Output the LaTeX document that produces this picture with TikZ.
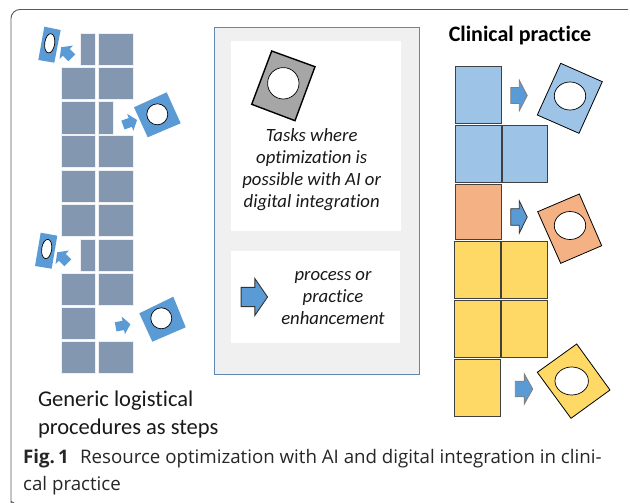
\documentclass[tikz,border=0pt]{standalone}
\usepackage{fontspec}
\setmainfont{Carlito}[Ligatures=NoCommon]
\newfontfamily\captionfont{Open Sans}
\definecolor{stepgrey}{HTML}{8497B0}
\definecolor{arrowblue}{HTML}{5B9BD5}
\definecolor{panelgrey}{HTML}{F0F0F0}
\definecolor{panelline}{HTML}{5F88B0}
\definecolor{clinblue}{HTML}{9DC3E6}
\definecolor{clinorange}{HTML}{F4B183}
\definecolor{clinyellow}{HTML}{FFD966}
\tikzset{
  stepbox/.style={fill=stepgrey, draw=black!6, line width=0.8pt},
  clinbox/.style={draw=black!75, line width=0.9pt},
  tagleft/.style={fill=arrowblue},
  hole/.style={fill=white, draw=black, line width=0.7pt},
  arrowflat/.style={fill=arrowblue},
  arrowdark/.style={fill=arrowblue, draw=black!80, line width=0.8pt},
  infotext/.style={font=\fontsize{18.7}{22}\selectfont\itshape, align=center, text=black!90},
  blockarrow/.pic={
    \path[pic actions] (-.5,.26) -- (.02,.26) -- (.02,.5) -- (.5,0) -- (.02,-.5) -- (.02,-.26) -- (-.5,-.26) -- cycle;
  }
}
\begin{document}
\begin{tikzpicture}[x=1pt, y=-1pt]
  \useasboundingbox (0,0) rectangle (630,503);
  % outer frame of the figure
  \draw[black!65, line width=0.9pt, rounded corners=9pt] (628,9.5) -- (11,9.5) -- (11,496) .. controls (11,500) and (12,502) .. (14,503);

  % Generic steps, left
  \draw[stepbox] (80,33) rectangle (95.5,65);
  \draw[stepbox] (98,33) rectangle (133,65);
  \draw[stepbox] (61,67) rectangle (95.5,99);
  \draw[stepbox] (98,67) rectangle (133,99);
  \draw[stepbox] (61,101) rectangle (95.5,134);
  \draw[stepbox] (98,101) rectangle (113,134);
  \draw[stepbox] (61,135.5) rectangle (95.5,167.5);
  \draw[stepbox] (98,135.5) rectangle (133,167.5);
  \draw[stepbox] (61,170) rectangle (95.5,202);
  \draw[stepbox] (98,170) rectangle (133,202);
  \draw[stepbox] (61,204) rectangle (95.5,236.5);
  \draw[stepbox] (98,204) rectangle (133,236.5);
  \draw[stepbox] (80.5,239.5) rectangle (95.5,271.5);
  \draw[stepbox] (98,239.5) rectangle (133,271.5);
  \draw[stepbox] (61,273.5) rectangle (95.5,305.5);
  \draw[stepbox] (98,273.5) rectangle (133,305.5);
  \draw[stepbox] (61,307.5) rectangle (95.5,339);
  \draw[stepbox] (61,341.5) rectangle (95.5,373);
  \draw[stepbox] (98,341.5) rectangle (133,373);

  % punched tags, left
  \fill[tagleft] (44.3,26.7) -- (60.7,30) -- (54.3,62.7) -- (38.3,60) -- cycle;
  \draw[hole, rotate around={-8:(49.7,43.3)}] (49.7,43.3) ellipse (5 and 9.7);
  \fill[tagleft] (134,107.3) -- (166.7,92.3) -- (180.7,123.3) -- (147.7,137.3) -- cycle;
  \draw[hole] (157.3,114.3) circle (10.5);
  \fill[tagleft] (40.7,232.7) -- (57.3,235.7) -- (51.7,268.7) -- (35,266) -- cycle;
  \draw[hole, rotate around={-8:(46.7,249)}] (46.7,249) ellipse (5 and 9.7);
  \fill[tagleft] (139.3,313.3) -- (173.3,296.7) -- (185.7,327.3) -- (152.3,341.7) -- cycle;
  \draw[hole] (161.3,318.3) circle (10.5);
  \pic[arrowflat, rotate=135, xscale=15, yscale=19] at (66.5,52.5) {blockarrow};
  \pic[arrowflat, rotate=20, xscale=15, yscale=18] at (130,122.5) {blockarrow};
  \pic[arrowflat, rotate=135, xscale=15, yscale=19] at (62.5,257.5) {blockarrow};
  \pic[arrowflat, rotate=10, xscale=15, yscale=18] at (123,325.5) {blockarrow};

  \node[anchor=west, font=\fontsize{22.5}{28}\selectfont, align=left, text=black!90] (stepstext) at (34.5,414.5) {Generic logistical\\procedures as steps};

  % Legend panel, middle
  \draw[fill=panelgrey, draw=panelline, line width=0.9pt] (214,27.5) rectangle (419,374);
  \fill[white] (231,41) rectangle (401,231);
  \fill[white] (231,251) rectangle (400,342.7);
  \draw[fill=black!35, line width=1.4pt] (271.7,51) -- (315,66.7) -- (295,120.7) -- (251.7,104.3) -- cycle;
  \draw[hole] (283.3,83.3) circle (15.7);
  \node[infotext] (taskstext) at (311.7,170) {Tasks where\\optimization is\\possible with AI or\\digital integration};
  \pic[arrowdark, line width=0.9pt, xscale=26.5, yscale=37] at (254.3,297) {blockarrow};
  \node[infotext] (enhancetext) at (333,298) {process or\\practice\\enhancement};

  % Clinical steps, right
  \node[font=\fontsize{22}{24}\selectfont\bfseries] (clintitle) at (520,36) {Clinical practice};
  \draw[clinbox, fill=clinblue] (455.3,66.7) rectangle (501,123.3);
  \draw[clinbox, fill=clinblue] (455.3,125.7) rectangle (501,182.3);
  \draw[clinbox, fill=clinblue] (502.3,125.7) rectangle (547.7,182.3);
  \draw[clinbox, fill=clinorange] (455.3,184.3) rectangle (501,239.5);
  \draw[clinbox, fill=clinyellow] (454.7,241.7) rectangle (500.7,298.3);
  \draw[clinbox, fill=clinyellow] (501.7,241.7) rectangle (547,298.3);
  \draw[clinbox, fill=clinyellow] (454.7,300.3) rectangle (500.7,357.3);
  \draw[clinbox, fill=clinyellow] (501.7,300.3) rectangle (547,357.3);
  \draw[clinbox, fill=clinyellow] (454.7,359.3) rectangle (500.7,416);

  % punched tags, right
  \draw[fill=clinblue, line width=0.8pt] (560.7,63.3) -- (602.3,81.7) -- (579,133.3) -- (537.3,115) -- cycle;
  \draw[hole] (570,96) ellipse (15.7 and 14);
  \draw[fill=clinorange, line width=0.8pt] (537.7,211.7) -- (579.3,194) -- (601.7,245.7) -- (560.7,263.3) -- cycle;
  \draw[hole] (570,225.5) ellipse (15.7 and 14);
  \draw[fill=clinyellow, line width=0.8pt] (537.3,372.3) -- (576.7,344) -- (610,390) -- (571,418.3) -- cycle;
  \draw[hole] (571.7,381) ellipse (16.7 and 14);
  \pic[arrowdark, draw=black!50, xscale=16.5, yscale=30.5] at (519,95.5) {blockarrow};
  \pic[arrowdark, xscale=16.5, yscale=32] at (519,217) {blockarrow};
  \pic[arrowdark, draw=black!50, xscale=17.5, yscale=30] at (524,389) {blockarrow};

  % caption
  \node[anchor=west, font=\captionfont\fontsize{18.7}{27}\selectfont, text=black!85, align=left, inner sep=0pt] (figcaption) at (23,472) {{\bfseries Fig.\,1}\hspace{0.6em}Resource optimization with AI and digital integration in clini-\\cal practice};
\end{tikzpicture}
\end{document}
